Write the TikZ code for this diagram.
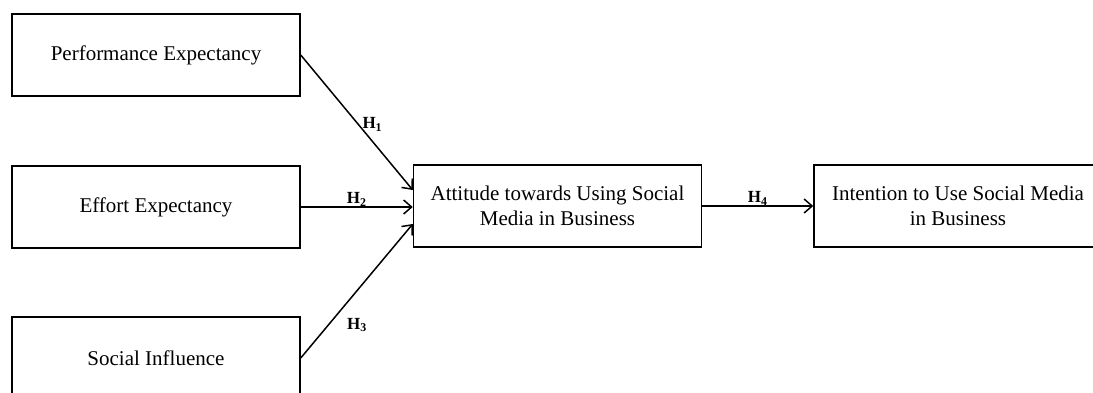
\documentclass[tikz,border=0pt]{standalone}
\usepackage{fontspec}
\setmainfont{Liberation Serif}
\usetikzlibrary{arrows.meta}
\tikzset{box/.style={draw,line width=1.5pt,minimum width=288pt,minimum height=82pt,inner sep=0pt,align=center,font=\fontsize{21}{25}\selectfont},
  hyp/.style={draw=none,inner sep=1pt,font=\fontsize{17}{18}\selectfont\bfseries},
  arr/.style={line width=1.5pt,-{Straight Barb[length=8pt,width=14pt,line width=1.5pt]}}}

\begin{document}
\begin{tikzpicture}[x=1pt,y=-1pt]
      \useasboundingbox (0,0) rectangle (1093,392);
      \node[box] (pe) at (156,55) {Performance Expectancy};
      \node[box] (ee) at (156,207) {Effort Expectancy};
      \node[box] (si) at (156,358) {Social Influence};
      \node[box] (att) at (557.5,206) {Attitude towards Using Social\\Media in Business};
      \node[box] (int) at (958,206) {Intention to Use Social Media\\in Business};

\draw[arr] (pe.east) -- ([yshift=16pt]att.west)
  node[hyp,pos=0.55,xshift=10pt,yshift=5pt] (h1) {H\textsubscript{1}};
\draw[arr] (ee.east) -- (ee.east -| att.west)
  node[hyp,midway,above,yshift=-1pt] (h2) {H\textsubscript{2}};
\draw[arr] (si.east) -- ([yshift=-18pt]att.west)
  node[hyp,pos=0.35,xshift=17pt,yshift=-14pt] (h3) {H\textsubscript{3}};
\draw[arr] (att) -- (int)
  node[hyp,midway,above,yshift=-1pt] (h4) {H\textsubscript{4}};
    \end{tikzpicture}
\end{document}
